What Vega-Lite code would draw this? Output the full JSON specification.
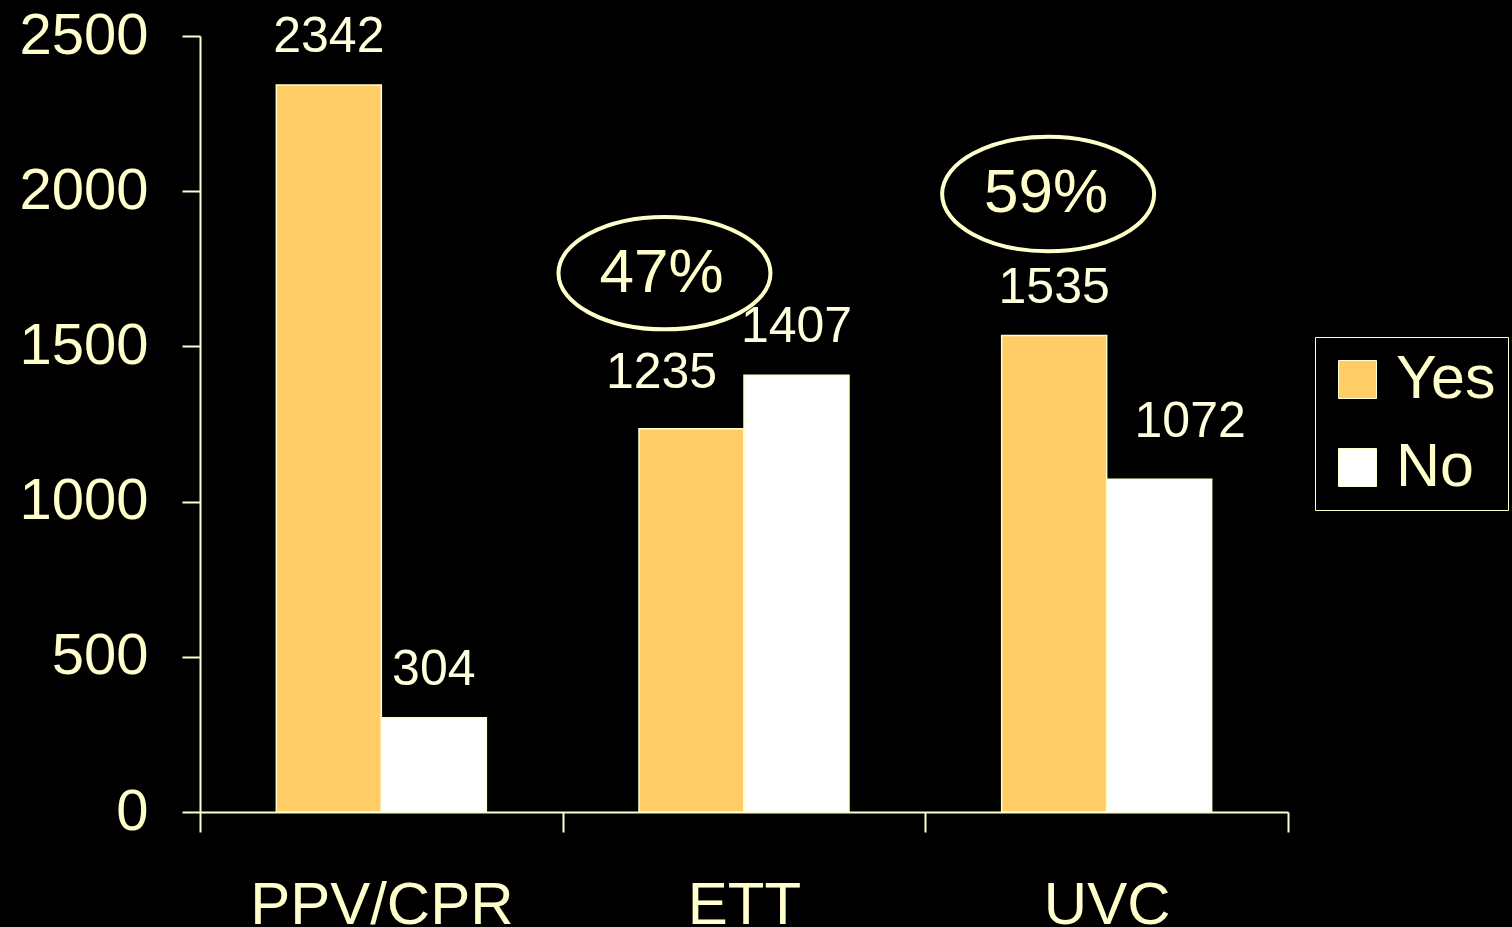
{
  "$schema": "https://vega.github.io/schema/vega-lite/v6.json",
  "width": 1088,
  "height": 776,
  "autosize": {"type": "none"},
  "padding": {"left": 200, "top": 36, "right": 224, "bottom": 115},
  "background": "#000000",
  "config": {"view": {"stroke": null}, "font": "Liberation Sans"},
  "datasets": {
    "bars": [
      {"procedure": "PPV/CPR", "response": "Yes", "count": 2342},
      {"procedure": "PPV/CPR", "response": "No", "count": 304},
      {"procedure": "ETT", "response": "Yes", "count": 1235},
      {"procedure": "ETT", "response": "No", "count": 1407},
      {"procedure": "UVC", "response": "Yes", "count": 1535},
      {"procedure": "UVC", "response": "No", "count": 1072}
    ],
    "notes": [
      {"procedure": "ETT", "response": "Yes", "level": 1736, "label": "47%"},
      {"procedure": "UVC", "response": "Yes", "level": 1991, "label": "59%"}
    ]
  },
  "layer": [
    {
      "data": {"name": "bars"},
      "mark": {"type": "bar", "stroke": "#FFFFCC", "strokeWidth": 1.5},
      "encoding": {
        "x": {
          "field": "procedure", "type": "nominal", "sort": ["PPV/CPR", "ETT", "UVC"],
          "scale": {"paddingInner": 0, "paddingOuter": 0},
          "axis": {
            "title": null, "labelAngle": 0, "tickBand": "extent", "tickSize": 20, "labelLimit": 0,
            "labelPadding": 44, "labelFontSize": 60, "labelColor": "#FFFFCC",
            "domainColor": "#FFFFCC", "tickColor": "#FFFFCC", "domainWidth": 2, "tickWidth": 2
          }
        },
        "xOffset": {
          "field": "response", "type": "nominal", "sort": ["Yes", "No"],
          "scale": {"paddingInner": 0, "paddingOuter": 0.727}
        },
        "y": {
          "field": "count", "type": "quantitative",
          "scale": {"domain": [0, 2500], "nice": false},
          "axis": {
            "title": null, "values": [0, 500, 1000, 1500, 2000, 2500], "format": "d", "grid": false,
            "tickSize": 18, "labelPadding": 34, "labelFontSize": 58, "labelColor": "#FFFFCC",
            "domainColor": "#FFFFCC", "tickColor": "#FFFFCC", "domainWidth": 2, "tickWidth": 2
          }
        },
        "color": {
          "field": "response", "type": "nominal", "sort": ["Yes", "No"],
          "scale": {"domain": ["Yes", "No"], "range": ["#FFCC66", "#FFFFFF"]},
          "legend": {
            "orient": "none", "legendX": 1115, "legendY": 301, "direction": "vertical",
            "title": null, "strokeColor": "#FFFFCC", "padding": 12,
            "fillColor": "#000000", "symbolType": "square", "symbolSize": 1444,
            "symbolStrokeColor": "#FFFFCC", "symbolStrokeWidth": 1,
            "labelFontSize": 61, "labelColor": "#FFFFCC", "labelOffset": 8, "rowPadding": 26
          }
        }
      }
    },
    {
      "data": {"name": "bars"},
      "transform": [{"filter": "datum.count != 1235 && datum.count != 1072"}],
      "mark": {"type": "text", "baseline": "alphabetic", "dy": -33, "fontSize": 50, "color": "#FFFFDD"},
      "encoding": {
        "x": {"field": "procedure", "type": "nominal", "sort": ["PPV/CPR", "ETT", "UVC"]},
        "xOffset": {"field": "response", "type": "nominal", "sort": ["Yes", "No"]},
        "y": {"field": "count", "type": "quantitative"},
        "text": {"field": "count", "type": "quantitative"}
      }
    },
    {
      "data": {"name": "bars"},
      "transform": [{"filter": "datum.count == 1235"}],
      "mark": {"type": "text", "baseline": "alphabetic", "dx": -30, "dy": -41, "fontSize": 50, "color": "#FFFFDD"},
      "encoding": {
        "x": {"field": "procedure", "type": "nominal", "sort": ["PPV/CPR", "ETT", "UVC"]},
        "xOffset": {"field": "response", "type": "nominal", "sort": ["Yes", "No"]},
        "y": {"field": "count", "type": "quantitative"},
        "text": {"field": "count", "type": "quantitative"}
      }
    },
    {
      "data": {"name": "bars"},
      "transform": [{"filter": "datum.count == 1072"}],
      "mark": {"type": "text", "baseline": "alphabetic", "dx": 31, "dy": -42, "fontSize": 50, "color": "#FFFFDD"},
      "encoding": {
        "x": {"field": "procedure", "type": "nominal", "sort": ["PPV/CPR", "ETT", "UVC"]},
        "xOffset": {"field": "response", "type": "nominal", "sort": ["Yes", "No"]},
        "y": {"field": "count", "type": "quantitative"},
        "text": {"field": "count", "type": "quantitative"}
      }
    },
    {
      "data": {"name": "notes"},
      "transform": [{"filter": "datum.label == '47%'"}],
      "mark": {
        "type": "point", "filled": false, "color": "#FFFFCC", "strokeWidth": 4, "opacity": 1, "size": 44944,
        "shape": "M -1.255,0 C -1.255,-0.2927 -0.8073,-0.53 -0.255,-0.53 C 0.2973,-0.53 0.745,-0.2927 0.745,0 C 0.745,0.2927 0.2973,0.53 -0.255,0.53 C -0.8073,0.53 -1.255,0.2927 -1.255,0 Z"
      },
      "encoding": {
        "x": {"field": "procedure", "type": "nominal", "sort": ["PPV/CPR", "ETT", "UVC"]},
        "xOffset": {"field": "response", "type": "nominal", "sort": ["Yes", "No"]},
        "y": {"field": "level", "type": "quantitative"}
      }
    },
    {
      "data": {"name": "notes"},
      "transform": [{"filter": "datum.label == '59%'"}],
      "mark": {
        "type": "point", "filled": false, "color": "#FFFFCC", "strokeWidth": 4, "opacity": 1, "size": 44944,
        "shape": "M -1.057,0 C -1.057,-0.2982 -0.6093,-0.54 -0.057,-0.54 C 0.4953,-0.54 0.943,-0.2982 0.943,0 C 0.943,0.2982 0.4953,0.54 -0.057,0.54 C -0.6093,0.54 -1.057,0.2982 -1.057,0 Z"
      },
      "encoding": {
        "x": {"field": "procedure", "type": "nominal", "sort": ["PPV/CPR", "ETT", "UVC"]},
        "xOffset": {"field": "response", "type": "nominal", "sort": ["Yes", "No"]},
        "y": {"field": "level", "type": "quantitative"}
      }
    },
    {
      "data": {"name": "notes"},
      "transform": [{"filter": "datum.label == '47%'"}],
      "mark": {"type": "text", "baseline": "alphabetic", "dx": -30, "dy": 19, "fontSize": 62, "color": "#FFFFCC"},
      "encoding": {
        "x": {"field": "procedure", "type": "nominal", "sort": ["PPV/CPR", "ETT", "UVC"]},
        "xOffset": {"field": "response", "type": "nominal", "sort": ["Yes", "No"]},
        "y": {"field": "level", "type": "quantitative"},
        "text": {"field": "label", "type": "nominal"}
      }
    },
    {
      "data": {"name": "notes"},
      "transform": [{"filter": "datum.label == '59%'"}],
      "mark": {"type": "text", "baseline": "alphabetic", "dx": -8, "dy": 18, "fontSize": 62, "color": "#FFFFCC"},
      "encoding": {
        "x": {"field": "procedure", "type": "nominal", "sort": ["PPV/CPR", "ETT", "UVC"]},
        "xOffset": {"field": "response", "type": "nominal", "sort": ["Yes", "No"]},
        "y": {"field": "level", "type": "quantitative"},
        "text": {"field": "label", "type": "nominal"}
      }
    }
  ]
}
